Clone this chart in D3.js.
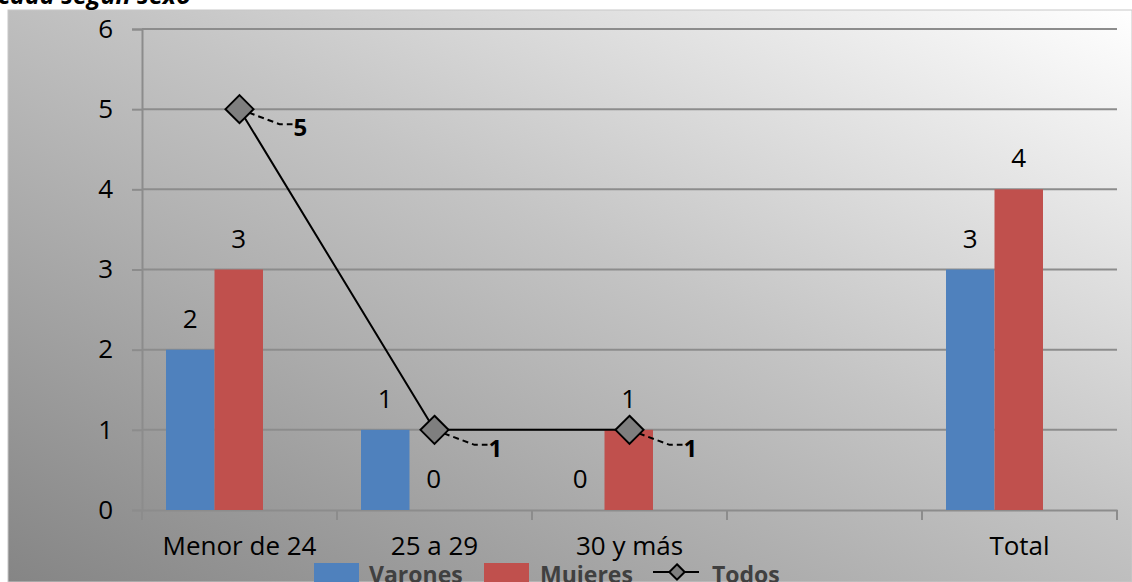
<!DOCTYPE html>
<html>
<head>
<meta charset="utf-8">
<script src="https://cdn.jsdelivr.net/npm/d3@7"></script>
<style>
  body { margin: 0; background: #fff; }
  svg { display: block; font-family: "Open Sans", "Noto Sans", sans-serif; }
</style>
</head>
<body>
<div id="chart"></div>
<script>
// categories and series
var categories = ["Menor de 24", "25 a 29", "30 y más", "", "Total"];
var varones = [2, 1, 0, null, 3];
var mujeres = [3, 0, 1, null, 4];
var todos = [5, 1, 1, null, null];
var yTicks = [0, 1, 2, 3, 4, 5, 6];

var width = 1132, height = 582;
var margin = {left: 142, right: 15, top: 29, bottom: 72};

var svg = d3.select("#chart").append("svg")
  .attr("width", width)
  .attr("height", height);

var defs = svg.append("defs");
var grad = defs.append("linearGradient")
  .attr("id", "bg")
  .attr("x1", "0%").attr("y1", "100%")
  .attr("x2", "100%").attr("y2", "0%");
grad.append("stop").attr("offset", "0%").attr("stop-color", "#858585");
grad.append("stop").attr("offset", "55%").attr("stop-color", "#c4c4c4");
grad.append("stop").attr("offset", "100%").attr("stop-color", "#ffffff");

// chart area background
svg.append("rect")
  .attr("x", 8).attr("y", 10)
  .attr("width", width - 8).attr("height", height - 10)
  .attr("fill", "url(#bg)")
  .attr("stroke", "#c8c8c8")
  .attr("stroke-width", 1);

// title (cut by the top edge)
svg.append("text")
  .attr("x", -2).attr("y", 4)
  .attr("font-size", 25)
  .attr("font-weight", "bold")
  .attr("font-style", "italic")
  .attr("fill", "#000")
  .text("cada según sexo");

var x = d3.scaleBand()
  .domain(d3.range(categories.length))
  .range([margin.left, width - margin.right]);

var sub = d3.scaleBand()
  .domain(["V", "M"])
  .range([0, 97]);

var y = d3.scaleLinear()
  .domain([0, 6])
  .range([height - margin.bottom, margin.top]);

var fs = 26;

// gridlines
svg.append("g")
  .selectAll("line")
  .data(yTicks.filter(d => d > 0))
  .join("line")
  .attr("x1", margin.left).attr("x2", width - margin.right)
  .attr("y1", d => y(d)).attr("y2", d => y(d))
  .attr("stroke", "#8c8c8c")
  .attr("stroke-width", 2);

// y axis
var yAxis = svg.append("g")
  .attr("transform", "translate(" + margin.left + ",0)")
  .call(d3.axisLeft(y).tickValues(yTicks).tickFormat(d3.format("d")).tickSize(10).tickPadding(19));
yAxis.select(".domain").attr("stroke", "#8c8c8c").attr("stroke-width", 2);
yAxis.selectAll(".tick line").attr("stroke", "#8c8c8c").attr("stroke-width", 2);
yAxis.selectAll(".tick text").attr("font-size", fs).attr("fill", "#000")
  .attr("font-family", "Open Sans, sans-serif");

// x axis
var xAxis = svg.append("g")
  .attr("transform", "translate(0," + y(0) + ")")
  .call(d3.axisBottom(x).tickSize(0).tickFormat(i => categories[i]).tickPadding(27));
xAxis.select(".domain").attr("stroke", "#8c8c8c").attr("stroke-width", 2);
xAxis.selectAll(".tick text").attr("font-size", fs).attr("fill", "#000")
  .attr("font-family", "Open Sans, sans-serif");
var edges = d3.range(categories.length + 1).map(i => margin.left + i * x.bandwidth());
xAxis.selectAll(".edge")
  .data(edges)
  .join("line")
  .attr("class", "edge")
  .attr("x1", d => d).attr("x2", d => d)
  .attr("y1", 0).attr("y2", 10)
  .attr("stroke", "#8c8c8c")
  .attr("stroke-width", 2);

// bars (the group sits left in each category, like the original)
var series = [
  {key: "V", values: varones, color: "#4f81bd"},
  {key: "M", values: mujeres, color: "#c0504d"}
];
var barOffset = 24;

series.forEach(function(s) {
  var g = svg.append("g");
  var pts = s.values.map((v, i) => ({i: i, v: v})).filter(d => d.v !== null);
  g.selectAll("rect")
    .data(pts)
    .join("rect")
    .attr("x", d => x(d.i) + barOffset + sub(s.key))
    .attr("y", d => y(d.v))
    .attr("width", sub.bandwidth())
    .attr("height", d => y(0) - y(d.v))
    .attr("fill", s.color);
  g.selectAll("text")
    .data(pts)
    .join("text")
    .attr("x", d => x(d.i) + barOffset + sub(s.key) + sub.bandwidth() / 2)
    .attr("y", d => y(d.v) - 22)
    .attr("text-anchor", "middle")
    .attr("font-size", fs)
    .attr("fill", "#000")
    .text(d => d.v);
});

// Todos line
var linePts = todos.map((v, i) => ({i: i, v: v})).filter(d => d.v !== null);
var cx = d => x(d.i) + x.bandwidth() / 2;

svg.append("path")
  .datum(linePts)
  .attr("fill", "none")
  .attr("stroke", "#000")
  .attr("stroke-width", 2)
  .attr("d", d3.line().x(cx).y(d => y(d.v)));

var diamond = d3.symbol().type(d3.symbolDiamond2).size(500);

// leader lines and labels
svg.append("g")
  .selectAll("path")
  .data(linePts)
  .join("path")
  .attr("fill", "none")
  .attr("stroke", "#000")
  .attr("stroke-width", 2)
  .attr("stroke-dasharray", "6,4")
  .attr("d", d => {
    var px = cx(d), py = y(d.v);
    return "M" + px + "," + py + " L" + (px + 40) + "," + (py + 15) + " L" + (px + 53) + "," + (py + 15);
  });

svg.append("g")
  .selectAll("path")
  .data(linePts)
  .join("path")
  .attr("transform", d => "translate(" + cx(d) + "," + y(d.v) + ")")
  .attr("d", diamond)
  .attr("fill", "#7f7f7f")
  .attr("stroke", "#000")
  .attr("stroke-width", 2);

svg.append("g")
  .selectAll("text")
  .data(linePts)
  .join("text")
  .attr("x", d => cx(d) + 54)
  .attr("y", d => y(d.v) + 27)
  .attr("text-anchor", "start")
  .attr("font-size", 24)
  .attr("font-weight", "bold")
  .attr("fill", "#000")
  .text(d => d.v);

// legend
var legend = svg.append("g").attr("font-size", 23).attr("font-weight", "bold");
legend.append("rect").attr("x", 314).attr("y", 563).attr("width", 45).attr("height", 20).attr("fill", "#4f81bd");
legend.append("text").attr("x", 369).attr("y", 583).attr("fill", "#404040").text("Varones");
legend.append("rect").attr("x", 484).attr("y", 563).attr("width", 45).attr("height", 20).attr("fill", "#c0504d");
legend.append("text").attr("x", 540).attr("y", 583).attr("fill", "#404040").text("Mujeres");
legend.append("line").attr("x1", 653).attr("x2", 699).attr("y1", 572).attr("y2", 572)
  .attr("stroke", "#000").attr("stroke-width", 2);
legend.append("path").attr("transform", "translate(677,572)")
  .attr("d", d3.symbol().type(d3.symbolDiamond2).size(150))
  .attr("fill", "#7f7f7f").attr("stroke", "#000").attr("stroke-width", 2);
legend.append("text").attr("x", 712).attr("y", 583).attr("fill", "#404040").text("Todos");
</script>
</body>
</html>
